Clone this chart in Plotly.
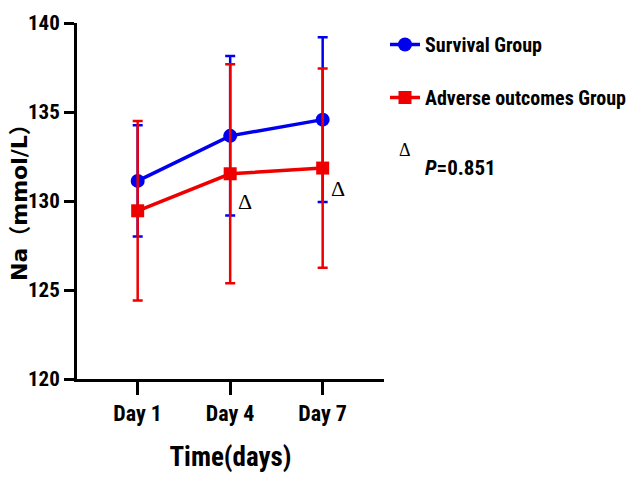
import plotly.graph_objects as go

days = ["Day 1", "Day 4", "Day 7"]
survival_mean = [131.13, 133.66, 134.57]
survival_sd = [3.13, 4.48, 4.63]
adverse_mean = [129.45, 131.53, 131.85]
adverse_sd = [5.04, 6.15, 5.60]
yticks = [120, 125, 130, 135, 140]
delta_days = ["Day 4", "Day 7"]
delta_y = [129.95, 130.7]

NARROW = "Liberation Sans Narrow, Roboto Condensed, DejaVu Sans Condensed, Arial Narrow, sans-serif"
BLUE = "#0000ee"
RED = "#ee0000"

fig = go.Figure()
fig.add_trace(go.Scatter(
    x=days, y=survival_mean, name="Survival Group", mode="lines+markers",
    line=dict(color=BLUE, width=3.5),
    marker=dict(symbol="circle", size=14, color=BLUE),
    error_y=dict(type="data", array=survival_sd, visible=True, color=BLUE, thickness=2.5, width=5),
    legendgroup="a",
))
fig.add_trace(go.Scatter(
    x=days, y=adverse_mean, name="Adverse outcomes Group", mode="lines+markers",
    line=dict(color=RED, width=3.5),
    marker=dict(symbol="square", size=13, color=RED),
    error_y=dict(type="data", array=adverse_sd, visible=True, color=RED, thickness=2.5, width=5),
    legendgroup="b",
))

for d, yv in zip(delta_days, delta_y):
    fig.add_annotation(x=d, y=yv, xref="x", yref="y", text="Δ", showarrow=False,
                       xshift=15, font=dict(family="Liberation Serif, serif", size=22, color="black"))

fig.add_annotation(x=405, y=150, xref="paper", yref="paper", text="Δ", showarrow=False,
                   xanchor="center", yanchor="middle",
                   font=dict(family="Liberation Serif, serif", size=18, color="black"))
fig.add_annotation(x=423, y=168, xref="paper", yref="paper", xanchor="left", yanchor="middle",
                   text="<i>P</i>=0.851", showarrow=False,
                   font=dict(family=NARROW, size=21, color="black", weight="bold"))
fig.add_annotation(x=19, y=197, xref="paper", yref="paper", textangle=-90,
                   xanchor="center", yanchor="middle",
                   text="Na（mmol/L）", showarrow=False,
                   font=dict(family="DejaVu Sans, Noto Sans CJK SC", size=22, color="black", weight="bold"))

fig.update_layout(
    width=643, height=479,
    margin=dict(l=77, r=259, t=23, b=100, autoexpand=False),
    plot_bgcolor="white", paper_bgcolor="white",
    showlegend=True,
    legend=dict(x=1.02, y=1.0, xanchor="left", yanchor="top", xref="paper", yref="paper",
                font=dict(family=NARROW, size=20, color="black", weight="bold"),
                itemwidth=30, tracegroupgap=24, traceorder="grouped", bgcolor="rgba(0,0,0,0)"),
    xaxis=dict(
        range=[-0.656, 2.663], showgrid=False, zeroline=False,
        showline=True, linecolor="black", linewidth=3,
        ticks="outside", ticklen=13, tickwidth=2.5, tickcolor="black",
        tickfont=dict(family=NARROW, size=22, color="black", weight="bold"),
        title=dict(text="Time(days)", font=dict(family=NARROW, size=27, color="black", weight="bold"), standoff=22),
    ),
    yaxis=dict(
        range=[120, 140], tickvals=yticks, showgrid=False, zeroline=False,
        showline=True, linecolor="black", linewidth=3,
        ticks="outside", ticklen=10, tickwidth=2.5, tickcolor="black",
        tickfont=dict(family=NARROW, size=21, color="black", weight="bold"),
    ),
)
W, H = 643, 479
l, r, t, b = 77, 259, 23, 100
pw, ph = W - l - r, H - t - b
for ann in fig.layout.annotations:
    if ann.xref == "paper":
        ann.x = (ann.x - l) / pw
        ann.y = 1 - (ann.y - t) / ph
fig.layout.legend.x = (385 - l) / pw
fig.layout.legend.y = 1 - (25 - t) / ph

fig.write_html("out.html", config={"displayModeBar": False},
               post_script="document.body.style.margin='0';document.body.style.overflow='hidden';")
